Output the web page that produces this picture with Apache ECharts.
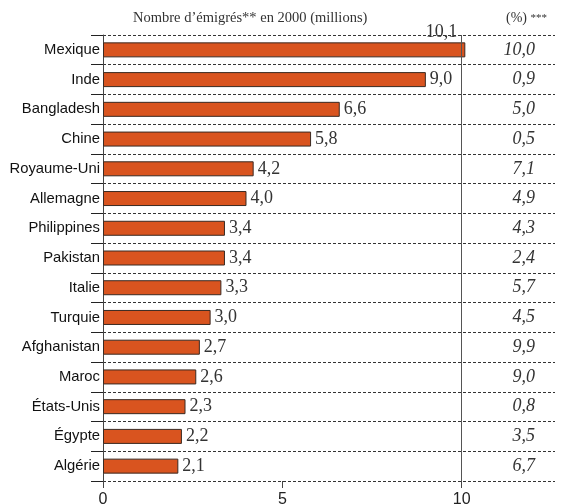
<html>
<head>
    <meta charset="UTF-8">
    <title>Émigrés 2000</title>
    <script src="https://cdn.jsdelivr.net/npm/echarts@6/dist/echarts.min.js"></script>
    <style>
        body { margin: 0; background: #fff; }
    </style>
</head>
<body>
    <div id="chart" style="width:568px; height:504px;"></div>
    <script>
        // pays (de haut en bas)
        var pays = ['Mexique', 'Inde', 'Bangladesh', 'Chine', 'Royaume-Uni', 'Allemagne', 'Philippines',
            'Pakistan', 'Italie', 'Turquie', 'Afghanistan', 'Maroc', 'États-Unis', 'Égypte', 'Algérie'];
        // nombre d'émigrés en 2000 (millions)
        var emigres = [10.1, 9.0, 6.6, 5.8, 4.2, 4.0, 3.4, 3.4, 3.3, 3.0, 2.7, 2.6, 2.3, 2.2, 2.1];
        // (%) ***
        var pourcent = [10.0, 0.9, 5.0, 0.5, 7.1, 4.9, 4.3, 2.4, 5.7, 4.5, 9.9, 9.0, 0.8, 3.5, 6.7];
        var graduations = [0, 5, 10];

        function virgule(v) {
            return v.toFixed(1).replace('.', ',');
        }

        var chart = echarts.init(document.getElementById('chart'), null, { renderer: 'canvas' });

        var barData = emigres.map(function (v, i) {
            if (i === 0) {
                // la valeur du Mexique est posée au-dessus de la barre
                return {
                    value: v,
                    label: { position: ['100%', 0], align: 'right', verticalAlign: 'bottom', offset: [-8, -1] }
                };
            }
            return v;
        });

        chart.setOption({
            animation: false,
            grid: { left: 103, right: 13, top: 35, bottom: 23, containLabel: false, outerBoundsMode: 'none' },
            title: [
                {
                    text: 'Nombre d\u2019émigrés** en 2000 (millions)',
                    left: 133, top: 11, padding: 0,
                    textStyle: { fontFamily: 'Liberation Serif', fontSize: 14.5, fontWeight: 'normal', color: '#333' }
                },
                {
                    text: '(%) {a|***}',
                    left: 506, top: 11, padding: 0,
                    textStyle: {
                        fontFamily: 'Liberation Serif', fontSize: 14, fontWeight: 'normal', color: '#333',
                        rich: { a: { fontFamily: 'Liberation Serif', fontSize: 11, color: '#333' } }
                    }
                }
            ],
            xAxis: {
                type: 'value', min: 0, max: 12.6, interval: 5,
                axisLine: { show: false },
                axisTick: { show: true, length: 7, customValues: graduations, lineStyle: { color: '#444' } },
                axisLabel: {
                    customValues: graduations, margin: 11,
                    fontFamily: 'Liberation Sans', fontSize: 16, color: '#222'
                },
                splitLine: { show: false }
            },
            yAxis: [
                {
                    type: 'category', inverse: true, data: pays,
                    axisLine: { show: true, onZero: false, lineStyle: { color: '#444', width: 1 } },
                    axisTick: { show: true, interval: 0, length: 12, lineStyle: { color: '#222', width: 1 } },
                    axisLabel: { margin: 3, fontFamily: 'Liberation Sans', fontSize: 14.8, color: '#111' },
                    splitLine: { show: true, lineStyle: { type: [3, 2], color: '#333', width: 1 } }
                },
                {
                    type: 'category', inverse: true, position: 'right',
                    data: pourcent.map(virgule),
                    axisLine: { show: false },
                    axisTick: { show: false },
                    splitLine: { show: false },
                    axisLabel: {
                        inside: true, margin: 20, align: 'right',
                        fontFamily: 'Liberation Serif', fontStyle: 'italic', fontSize: 18, color: '#333'
                    }
                }
            ],
            series: [
                {
                    type: 'bar',
                    yAxisIndex: 0,
                    data: barData,
                    barWidth: 15,
                    itemStyle: { color: '#D9541F', borderColor: '#3a2a22', borderWidth: 1 },
                    label: {
                        show: true, position: 'right', distance: 4,
                        fontFamily: 'Liberation Serif', fontSize: 18, color: '#333',
                        formatter: function (p) { return virgule(p.value); }
                    },
                    markLine: {
                        silent: true, symbol: ['none', 'none'],
                        label: { show: false },
                        lineStyle: { type: 'solid', color: '#555', width: 1 },
                        data: [{ xAxis: 10 }]
                    }
                }
            ]
        });
    </script>
</body>
</html>
